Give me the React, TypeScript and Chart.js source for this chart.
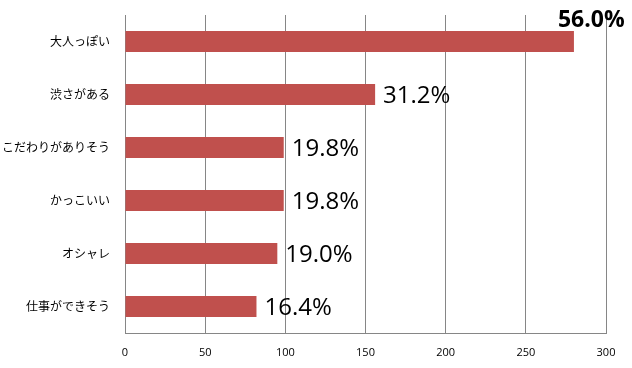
import React, { useEffect, useRef } from "react";
import { Chart, registerables } from "chart.js";

Chart.register(...registerables);

const categories = ["大人っぽい", "渋さがある", "こだわりがありそう", "かっこいい", "オシャレ", "仕事ができそう"];
const counts = [280, 156, 99, 99, 95, 82];
const percentLabels = ["56.0%", "31.2%", "19.8%", "19.8%", "19.0%", "16.4%"];
const xTicks = [0, 50, 100, 150, 200, 250, 300];

const GRID = "#868686";
const BAR = "#C0504D";

const labelPlugin = {
  id: "pctLabels",
  afterDatasetsDraw(chart: any) {
    const ctx = chart.ctx;
    const meta = chart.getDatasetMeta(0);
    ctx.save();
    ctx.fillStyle = "#000";
    ctx.textAlign = "left";
    ctx.textBaseline = "middle";
    meta.data.forEach((bar: any, i: number) => {
      if (i === 0) {
        ctx.font = "bold 23px 'Open Sans', sans-serif";
        ctx.fillText(percentLabels[i], bar.x - 16, bar.y - 21);
      } else {
        ctx.font = "24px 'Open Sans', sans-serif";
        ctx.fillText(percentLabels[i], bar.x + 8, bar.y + 2);
      }
    });
    ctx.restore();
  },
};

export default function App() {
  const ref = useRef<HTMLCanvasElement>(null);
  useEffect(() => {
    if (!ref.current) return;
    const chart = new Chart(ref.current, {
      type: "bar",
      data: {
        labels: categories,
        datasets: [
          {
            data: counts,
            backgroundColor: BAR,
            borderWidth: 0,
            barPercentage: 0.8,
            categoryPercentage: 0.5,
          },
        ],
      },
      options: {
        indexAxis: "y",
        animation: false,
        responsive: false,
        maintainAspectRatio: false,
        layout: { padding: { top: 15, right: 26, left: 0, bottom: 0 } },
        plugins: { legend: { display: false }, tooltip: { enabled: false } },
        scales: {
          x: {
            min: 0,
            max: 300,
            afterBuildTicks: (scale: any) => {
              scale.ticks = xTicks.map((v) => ({ value: v }));
            },
            afterFit: (scale: any) => {
              scale.height = 35;
              scale.paddingLeft = 0;
              scale.paddingRight = 0;
            },
            grid: { color: GRID, lineWidth: 1, drawTicks: false },
            border: { display: true, color: GRID, width: 1 },
            ticks: {
              color: "#000",
              padding: 13,
              font: { family: "'Open Sans', sans-serif", size: 11 },
              maxRotation: 0,
            },
          },
          y: {
            afterFit: (scale: any) => {
              scale.width = 125;
              scale.paddingTop = 0;
              scale.paddingBottom = 0;
            },
            grid: { display: false, drawTicks: false },
            border: { display: true, color: GRID, width: 1 },
            ticks: {
              color: "#000",
              padding: 15,
              font: { family: "'Noto Sans CJK JP', sans-serif", size: 12 },
            },
          },
        },
      },
      plugins: [labelPlugin],
    } as any);
    return () => chart.destroy();
  }, []);
  return (
    <div style={{ position: "fixed", left: 0, top: 0, width: 632, height: 368, background: "#fff" }}>
      <canvas ref={ref} width={632} height={368} style={{ display: "block" }} />
    </div>
  );
}
